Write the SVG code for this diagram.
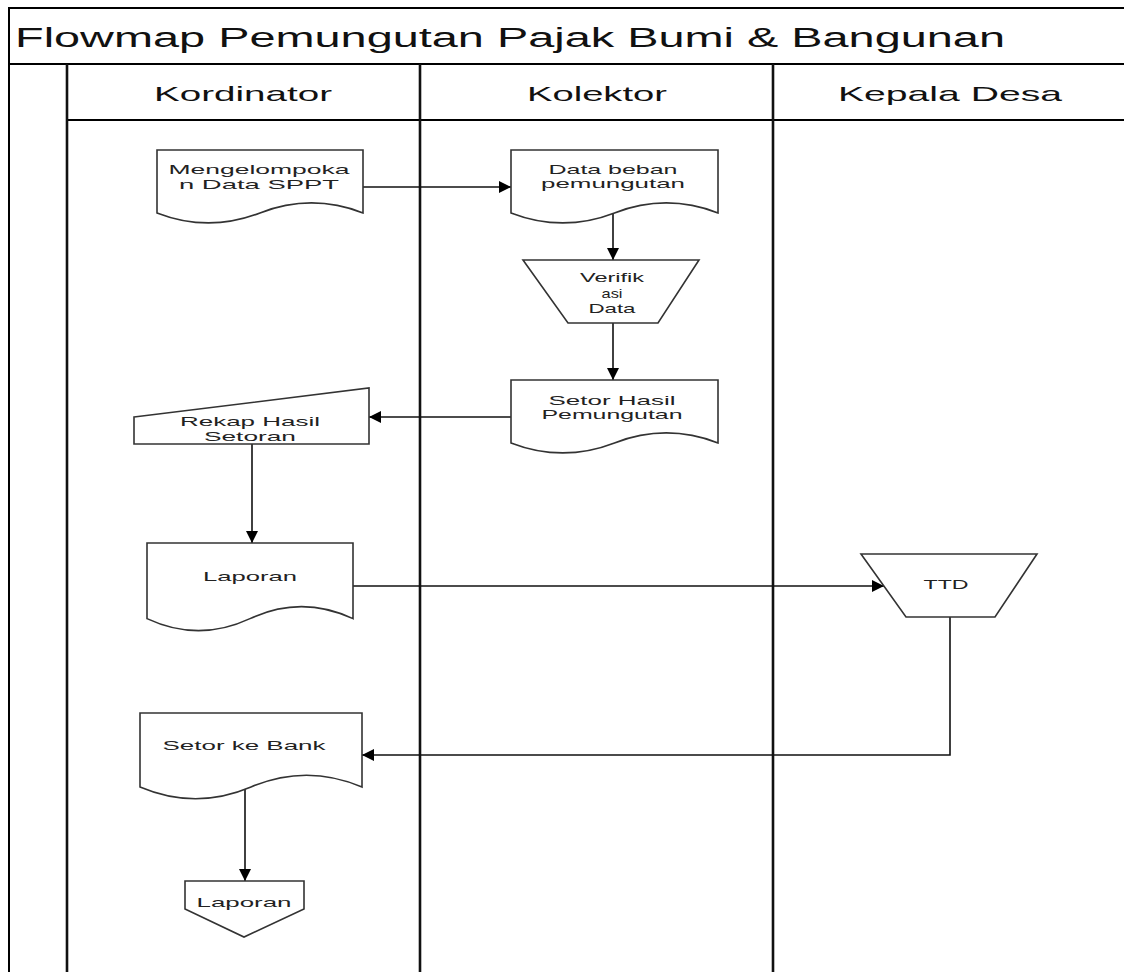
<svg xmlns="http://www.w3.org/2000/svg" width="1124" height="972" viewBox="0 0 1124 972">
  <style>
    .frame { fill: none; stroke: #000; stroke-width: 2; }
    .lane { fill: none; stroke: #111; stroke-width: 2.6; }
    .shape { fill: #fff; stroke: #333; stroke-width: 1.6; }
    .edge { fill: none; stroke: #111; stroke-width: 1.6; }
    .title { font-family: "Liberation Sans", Arial, sans-serif; font-size: 27px; fill: #111; }
    .head { font-family: "Liberation Sans", Arial, sans-serif; font-size: 21px; fill: #111; text-anchor: middle; }
    .lbl { font-family: "Liberation Sans", Arial, sans-serif; font-size: 13.5px; fill: #222; text-anchor: middle; }
  </style>
  <defs>
    <marker id="arrow" markerUnits="userSpaceOnUse" markerWidth="14" markerHeight="12" refX="12" refY="6" orient="auto">
      <path d="M0,0 L12,6 L0,12 Z" fill="#000"/>
    </marker>
  </defs>

  <rect width="1124" height="972" fill="#fff"/>

  <!-- pool and swimlanes -->
  <g id="pool">
    <path class="frame" d="M9,972 V8 H1130"/>
    <path class="frame" d="M9,64 H1130"/>
    <path class="frame" d="M67,120 H1130"/>
    <path class="lane" d="M67,64 V972"/>
    <path class="lane" d="M420,64 V972"/>
    <path class="lane" d="M773,64 V972"/>
    <text class="title" x="15" y="47" textLength="990" lengthAdjust="spacingAndGlyphs">Flowmap Pemungutan Pajak Bumi &amp; Bangunan</text>
    <text class="head" x="243" y="101" textLength="178" lengthAdjust="spacingAndGlyphs">Kordinator</text>
    <text class="head" x="597" y="101" textLength="140" lengthAdjust="spacingAndGlyphs">Kolektor</text>
    <text class="head" x="950" y="101" textLength="224" lengthAdjust="spacingAndGlyphs">Kepala Desa</text>
  </g>

  <!-- connectors -->
  <g id="connectors">
    <path class="edge" d="M363,187 H511" marker-end="url(#arrow)"/>
    <path class="edge" d="M613,213 V260" marker-end="url(#arrow)"/>
    <path class="edge" d="M613,323 V380" marker-end="url(#arrow)"/>
    <path class="edge" d="M511,417 H369" marker-end="url(#arrow)"/>
    <path class="edge" d="M252,444 V543" marker-end="url(#arrow)"/>
    <path class="edge" d="M353,586 H884" marker-end="url(#arrow)"/>
    <path class="edge" d="M950,617 V755 H362" marker-end="url(#arrow)"/>
    <path class="edge" d="M245,787 V881" marker-end="url(#arrow)"/>
  </g>

  <g id="mengelompokan">
    <path class="shape" d="M157,150 H363 V212.9 Q311.5,192.9 260,212.9 Q208.5,232.9 157,212.9 Z"/>
    <text class="lbl" x="259" y="174" textLength="181" lengthAdjust="spacingAndGlyphs">Mengelompoka</text>
    <text class="lbl" x="259" y="189" textLength="160" lengthAdjust="spacingAndGlyphs">n Data SPPT</text>
  </g>

  <g id="data-beban">
    <path class="shape" d="M511,150 H718 V212.9 Q666.25,192.9 614.5,212.9 Q562.75,232.9 511,212.9 Z"/>
    <text class="lbl" x="613" y="174" textLength="129" lengthAdjust="spacingAndGlyphs">Data beban</text>
    <text class="lbl" x="613" y="188" textLength="144" lengthAdjust="spacingAndGlyphs">pemungutan</text>
  </g>

  <g id="verifikasi">
    <path class="shape" d="M523,260 H699 L658,323 H568 Z"/>
    <text class="lbl" x="612" y="282" textLength="64" lengthAdjust="spacingAndGlyphs">Verifik</text>
    <text class="lbl" x="612" y="298" textLength="21" lengthAdjust="spacingAndGlyphs">asi</text>
    <text class="lbl" x="612" y="313" textLength="47" lengthAdjust="spacingAndGlyphs">Data</text>
  </g>

  <g id="setor-hasil">
    <path class="shape" d="M511,380 H718 V442.9 Q666.25,422.9 614.5,442.9 Q562.75,462.9 511,442.9 Z"/>
    <text class="lbl" x="612" y="405" textLength="127" lengthAdjust="spacingAndGlyphs">Setor Hasil</text>
    <text class="lbl" x="612" y="419" textLength="141" lengthAdjust="spacingAndGlyphs">Pemungutan</text>
  </g>

  <g id="rekap">
    <path class="shape" d="M134,417 L369,388 L369,444 L134,444 Z"/>
    <text class="lbl" x="250" y="426" textLength="140" lengthAdjust="spacingAndGlyphs">Rekap Hasil</text>
    <text class="lbl" x="250" y="441" textLength="92" lengthAdjust="spacingAndGlyphs">Setoran</text>
  </g>

  <g id="laporan">
    <path class="shape" d="M147,543 H353 V618.65 Q301.5,594.6 250,618.65 Q198.5,642.7 147,618.65 Z"/>
    <text class="lbl" x="250" y="581" textLength="94" lengthAdjust="spacingAndGlyphs">Laporan</text>
  </g>

  <g id="ttd">
    <path class="shape" d="M861,554 H1037 L995,617 H906 Z"/>
    <text class="lbl" x="946" y="589" textLength="45" lengthAdjust="spacingAndGlyphs">TTD</text>
  </g>

  <g id="setor-bank">
    <path class="shape" d="M140,713 H362 V786.95 Q306.5,763.46 251,786.95 Q195.5,810.44 140,786.95 Z"/>
    <text class="lbl" x="244" y="750" textLength="163" lengthAdjust="spacingAndGlyphs">Setor ke Bank</text>
  </g>

  <g id="laporan-akhir">
    <path class="shape" d="M185,881 H304 V909 L244,937 L185,909 Z"/>
    <text class="lbl" x="244" y="907" textLength="95" lengthAdjust="spacingAndGlyphs">Laporan</text>
  </g>
</svg>
